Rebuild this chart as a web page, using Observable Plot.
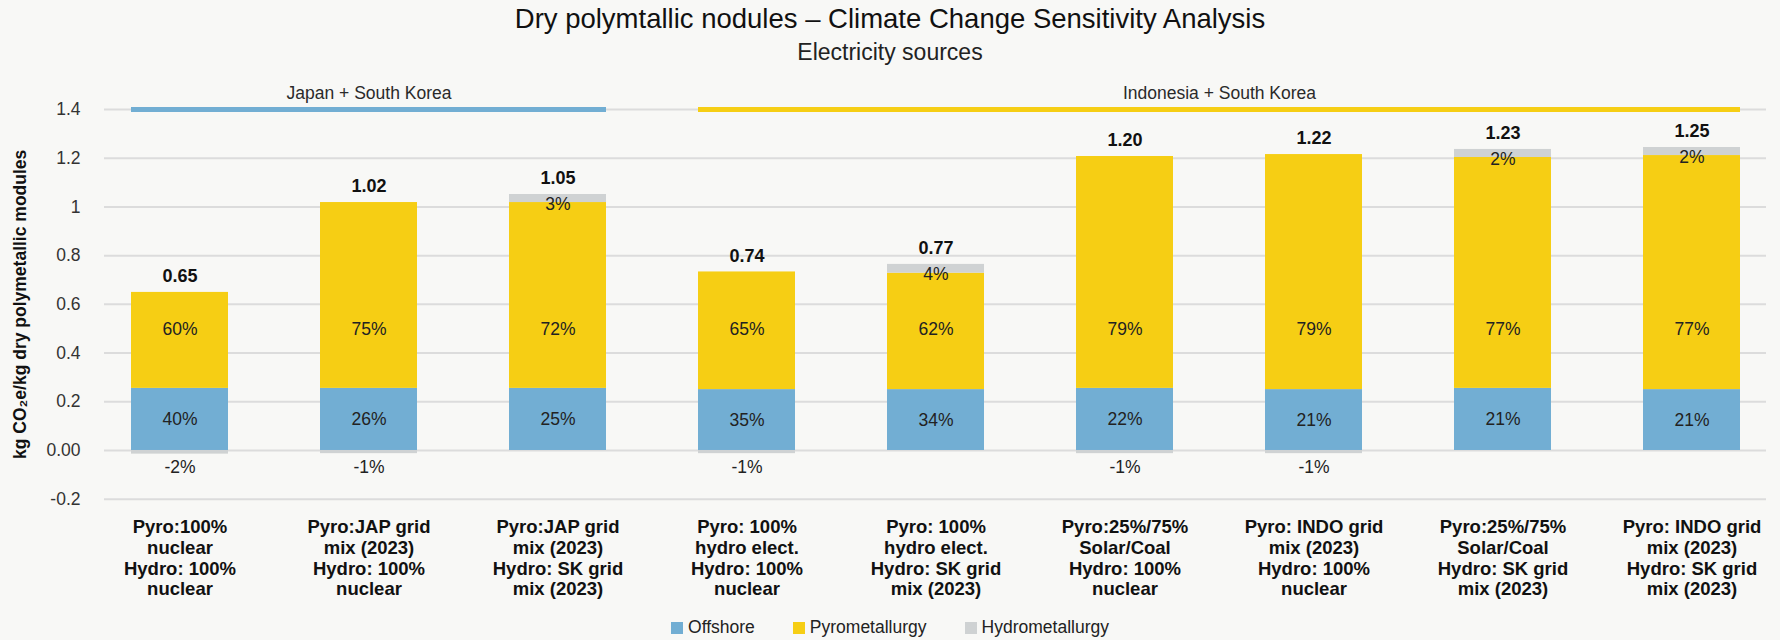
<!DOCTYPE html>
<html>
<head>
<meta charset="utf-8">
<script src="https://cdn.jsdelivr.net/npm/d3@7"></script>
<script src="https://cdn.jsdelivr.net/npm/@observablehq/plot@0.6"></script>
<style>
  html, body { margin: 0; padding: 0; background: #f8f8f6; }
  body { width: 1780px; height: 640px; overflow: hidden; font-family: "Liberation Sans", Arial, sans-serif; color: #1a1a1a; }
  #title { height: 38px; line-height: 38px; text-align: center; font-size: 27.5px; color: #111; }
  #subtitle { height: 32px; line-height: 28px; text-align: center; font-size: 23px; color: #222; }
  #chart svg { display: block; }
  #legend { height: 25px; display: flex; justify-content: center; align-items: center; font-size: 17.5px; color: #222; }
  .item { display: flex; align-items: center; margin: 0 19px; }
  .sw { width: 12px; height: 12px; margin-right: 5px; }
</style>
</head>
<body>
<div id="title">Dry polymtallic nodules – Climate Change Sensitivity Analysis</div>
<div id="subtitle">Electricity sources</div>
<div id="chart"></div>
<div id="legend"></div>
<script>
const categories = [
  "Pyro:100%\nnuclear\nHydro: 100%\nnuclear",
  "Pyro:JAP grid\nmix (2023)\nHydro: 100%\nnuclear",
  "Pyro:JAP grid\nmix (2023)\nHydro: SK grid\nmix (2023)",
  "Pyro: 100%\nhydro elect.\nHydro: 100%\nnuclear",
  "Pyro: 100%\nhydro elect.\nHydro: SK grid\nmix (2023)",
  "Pyro:25%/75%\nSolar/Coal\nHydro: 100%\nnuclear",
  "Pyro: INDO grid\nmix (2023)\nHydro: 100%\nnuclear",
  "Pyro:25%/75%\nSolar/Coal\nHydro: SK grid\nmix (2023)",
  "Pyro: INDO grid\nmix (2023)\nHydro: SK grid\nmix (2023)"
];
const offshore = [0.255, 0.255, 0.255, 0.25, 0.25, 0.255, 0.25, 0.255, 0.25];
const pyro     = [0.394, 0.763, 0.763, 0.483, 0.478, 0.952, 0.965, 0.948, 0.961];
const hydro    = [-0.015, -0.013, 0.033, -0.013, 0.036, -0.013, -0.013, 0.033, 0.033];
const totals   = ["0.65", "1.02", "1.05", "0.74", "0.77", "1.20", "1.22", "1.23", "1.25"];
const offshorePct = ["40%", "26%", "25%", "35%", "34%", "22%", "21%", "21%", "21%"];
const pyroPct     = ["60%", "75%", "72%", "65%", "62%", "79%", "79%", "77%", "77%"];
const hydroPct    = ["-2%", "-1%", "3%", "-1%", "4%", "-1%", "-1%", "2%", "2%"];
const seriesNames = ["Offshore", "Pyrometallurgy", "Hydrometallurgy"];
const seriesColors = ["#72aed3", "#f6ce14", "#cfd2d3"];
const yTicks = [-0.2, 0, 0.2, 0.4, 0.6, 0.8, 1, 1.2, 1.4];
const yTickLabels = ["-0.2", "0.00", "0.2", "0.4", "0.6", "0.8", "1", "1.2", "1.4"];
const yLabel = "kg CO₂e/kg dry polymetallic modules";
const groups = ["Japan + South Korea", "Indonesia + South Korea"];
const groupFirst = [0, 3];
const groupLast = [2, 8];
const groupColors = ["#72aed3", "#f6ce14"];
const pyroLabelY = 0.497;

// tidy table built from the arrays
const seriesValues = [offshore, pyro, hydro];
const tidy = [];
categories.forEach((c, i) => seriesNames.forEach((s, k) => tidy.push({cat: c, series: s, value: seriesValues[k][i]})));
const idx = categories.map((_, i) => i);
const posTop = i => offshore[i] + pyro[i] + Math.max(0, hydro[i]);

const W = 1780, H = 545;
const step = 189;
const x0 = 85;
const fontFamily = "'Liberation Sans', Arial, sans-serif";
const topTick = yTicks[yTicks.length - 1];

// one centred label per group (centre of the group's span of bars)
const groupLabelMarks = groups.map((name, g) => {
  const mid = (groupFirst[g] + groupLast[g]) / 2;
  const base = Math.floor(mid);
  return Plot.text([g], {
    x: () => categories[base], y: () => topTick, text: () => name,
    dx: (mid - base) * step, dy: -16, fontSize: 17.5, fill: "#2a2a2a"
  });
});

const chart = Plot.plot({
  width: W, height: H,
  marginLeft: 104, marginRight: 14, marginTop: 39, marginBottom: 116.3,
  style: {background: "transparent", fontFamily, overflow: "visible"},
  x: {type: "band", domain: categories, range: [x0, x0 + categories.length * step], paddingInner: 0.487, paddingOuter: 0.2435},
  y: {domain: [yTicks[0], topTick]},
  color: {domain: seriesNames, range: seriesColors},
  marks: [
    Plot.ruleY(yTicks, {stroke: "#dcdcdc", strokeWidth: 2}),
    Plot.barY(tidy, {x: "cat", y: "value", fill: "series", order: seriesNames}),
    Plot.ruleY(groups.map((_, g) => g), {
      y: () => topTick,
      x1: g => categories[groupFirst[g]], x2: g => categories[groupLast[g]],
      stroke: g => groupColors[g], strokeWidth: 5
    }),
    ...groupLabelMarks,
    Plot.text(idx, {x: i => categories[i], y: i => offshore[i] / 2, text: i => offshorePct[i], fontSize: 17.5, fill: "#222"}),
    Plot.text(idx, {x: i => categories[i], y: () => pyroLabelY, text: i => pyroPct[i], fontSize: 17.5, fill: "#222"}),
    Plot.text(idx.filter(i => hydro[i] > 0), {x: i => categories[i], y: i => posTop(i), text: i => hydroPct[i], dy: 10, fontSize: 17.5, fill: "#222"}),
    Plot.text(idx.filter(i => hydro[i] < 0), {x: i => categories[i], y: () => 0, text: i => hydroPct[i], dy: 17, fontSize: 17.5, fill: "#222"}),
    Plot.text(idx, {x: i => categories[i], y: i => posTop(i), text: i => totals[i], dy: -16, fontSize: 18, fontWeight: "bold", fill: "#111"}),
    Plot.axisY({ticks: yTicks, tickFormat: d => yTickLabels[yTicks.indexOf(d)], tickSize: 0, tickPadding: 24, fontSize: 17.5, fill: "#333", label: null}),
    Plot.axisX({tickSize: 0, tickPadding: 19, fontSize: 18.5, fontWeight: "bold", lineHeight: 1.125, fill: "#111", label: null}),
    Plot.text([yLabel], {frameAnchor: "left", textAnchor: "middle", rotate: -90, dx: -84, fontSize: 17.5, fontWeight: "bold", fill: "#111"})
  ]
});
document.getElementById("chart").appendChild(chart);

const legend = document.getElementById("legend");
seriesNames.forEach((s, k) => {
  const it = document.createElement("div");
  it.className = "item";
  it.innerHTML = `<span class="sw" style="background:${seriesColors[k]}"></span><span>${s}</span>`;
  legend.appendChild(it);
});
</script>
</body>
</html>
